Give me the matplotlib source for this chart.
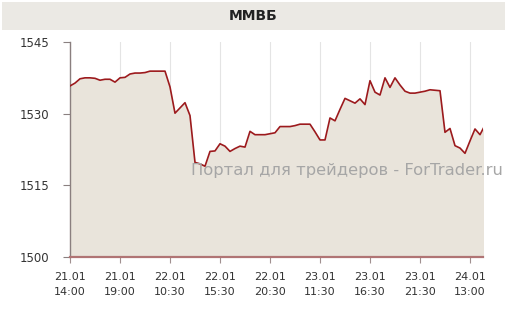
import matplotlib
matplotlib.use("Agg")
import matplotlib.pyplot as plt
from matplotlib.patches import Rectangle

title = "ММВБ"
watermark = "Портал для трейдеров - ForTrader.ru"

# 30-minute samples
values = [
    1535.8, 1536.4, 1537.3, 1537.5, 1537.5, 1537.4, 1537.0, 1537.2, 1537.2, 1536.6,
    1537.5, 1537.6, 1538.3, 1538.5, 1538.5, 1538.6, 1538.9, 1538.9, 1538.9, 1538.9,
    1535.6, 1530.1, 1531.2, 1532.3, 1529.6, 1519.8, 1519.5, 1519.0, 1522.1, 1522.2,
    1523.7, 1523.2, 1522.1, 1522.7, 1523.2, 1523.0, 1526.3, 1525.6, 1525.6, 1525.6,
    1525.8, 1526.0, 1527.3, 1527.3, 1527.3, 1527.5, 1527.8, 1527.8, 1527.8, 1526.2,
    1524.5, 1524.5, 1529.1, 1528.5, 1530.9, 1533.2, 1532.7, 1532.2, 1533.1, 1531.9,
    1536.9, 1534.5, 1533.9, 1537.5, 1535.5, 1537.5, 1536.0, 1534.7, 1534.3, 1534.3,
    1534.5, 1534.7, 1535.0, 1534.9, 1534.8, 1526.1, 1526.9, 1523.3, 1522.8, 1521.7,
    1524.3, 1526.8, 1525.6, 1527.6,
]
tick_positions = [0, 10, 20, 30, 40, 50, 60, 70, 80]
tick_labels = ["21.01\n14:00", "21.01\n19:00", "22.01\n10:30", "22.01\n15:30",
               "22.01\n20:30", "23.01\n11:30", "23.01\n16:30", "23.01\n21:30",
               "24.01\n13:00"]
y_ticks = [1500, 1515, 1530, 1545]

W, H = 507, 317
fig = plt.figure(figsize=(W / 100, H / 100), dpi=100)
fig.patch.set_facecolor("white")

# title bar
fig.patches.append(Rectangle((2 / W, 1 - 30 / H), 503 / W, 28 / H,
                             transform=fig.transFigure, facecolor="#ebe9e4",
                             edgecolor="none", zorder=0))
fig.text(253 / W, 1 - 16 / H, title, ha="center", va="center",
         fontsize=10, fontweight="bold", color="#222222", family="DejaVu Sans")

ax = fig.add_axes([70 / W, 1 - 257 / H, 412.5 / W, 215 / H])
x = list(range(len(values)))
ax.fill_between(x, values, 1500, color="#e9e4db", linewidth=0, zorder=1)
ax.plot(x, values, color="#9c1a1d", linewidth=1.2, zorder=3)

ax.set_xlim(0, 82.5)
ax.set_ylim(1500, 1545)
ax.set_xticks(tick_positions)
ax.set_xticklabels(tick_labels, linespacing=1.6)
ax.set_yticks(y_ticks)
ax.grid(axis="x", color="#e4e4e4", linewidth=0.8, zorder=0)
ax.set_axisbelow(True)

for s in ["top", "right"]:
    ax.spines[s].set_visible(False)
ax.spines["left"].set_color("#8a7f7f")
ax.spines["left"].set_linewidth(1.0)
ax.spines["bottom"].set_color("#b07474")
ax.spines["bottom"].set_linewidth(1.6)

ax.tick_params(axis="y", length=5, width=0.8, color="#8a8080", pad=10,
               labelsize=8.5, labelcolor="#333333")
ax.tick_params(axis="x", length=4, width=0.8, color="#a09090", pad=7,
               labelsize=8, labelcolor="#333333")

fig.text(191 / W, 1 - 170 / H, watermark, ha="left", va="center",
         fontsize=11.8, color="#a6a6a6", family="DejaVu Sans", zorder=5)

fig.savefig("out.png", dpi=100)
